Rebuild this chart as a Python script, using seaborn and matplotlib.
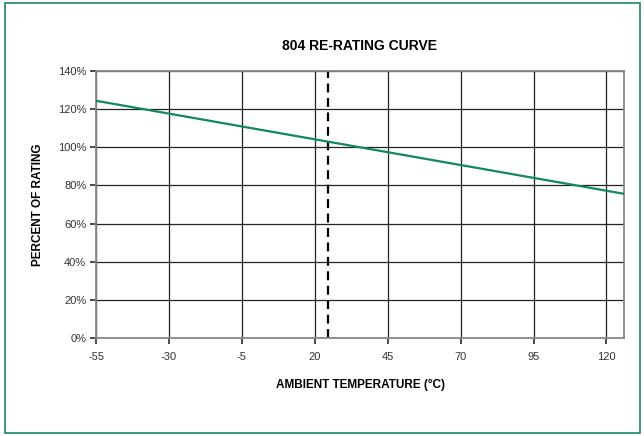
import seaborn as sns
import pandas as pd
import matplotlib.pyplot as plt
from matplotlib.patches import Rectangle
from matplotlib.ticker import PercentFormatter

temp = [-55, 126]
rating = [124.4, 75.6]
rated_temp = 24.5
x_ticks = [-55, -30, -5, 20, 45, 70, 95, 120]
y_ticks = [0, 20, 40, 60, 80, 100, 120, 140]

df = pd.DataFrame({'Temperature': temp, 'Rating': rating})

sns.set_theme(style='white')
plt.rcParams['font.family'] = ['Liberation Sans', 'DejaVu Sans']
plt.rcParams['axes.unicode_minus'] = False

fig = plt.figure(figsize=(6.44, 4.36), dpi=100)
ax = fig.add_axes([96 / 644, 1 - 338 / 436, (624 - 96) / 644, (338 - 71) / 436])

# green outline round the whole figure
fig.patches.append(Rectangle((0.008, 0.006), 0.986, 0.986, transform=fig.transFigure,
                             fill=False, edgecolor='#1a8a5e', linewidth=1.2))

for t in y_ticks:
    ax.axhline(t, color='#222222', linewidth=0.9, zorder=1)
for t in x_ticks:
    ax.axvline(t, color='#222222', linewidth=0.9, zorder=1)

ax.axvline(rated_temp, color='black', linewidth=1.6, linestyle=(0, (4, 2.5)), zorder=2)

sns.lineplot(data=df, x='Temperature', y='Rating', color='#12895a', linewidth=1.6, ax=ax, zorder=3)

ax.set_xlim(-55, 126)
ax.set_ylim(0, 140)
ax.set_xticks(x_ticks)
ax.set_yticks(y_ticks)
ax.yaxis.set_major_formatter(PercentFormatter(decimals=0))
ax.tick_params(axis='both', which='major', labelsize=8, colors='#333333', length=4,
               direction='out', bottom=True, left=True, pad=3)
ax.tick_params(axis='x', pad=6)
for side in ax.spines.values():
    side.set_color('#888888')
    side.set_linewidth(1.3)

ax.set_title('804 RE-RATING CURVE', fontsize=10, fontweight='bold', pad=15, color='black')
ax.set_xlabel('AMBIENT TEMPERATURE (°C)', fontsize=8.5, fontweight='bold', labelpad=12, color='black')
ax.set_ylabel('PERCENT OF RATING', fontsize=8.5, fontweight='bold', labelpad=10, color='black')

fig.savefig('out.png', dpi=100)
